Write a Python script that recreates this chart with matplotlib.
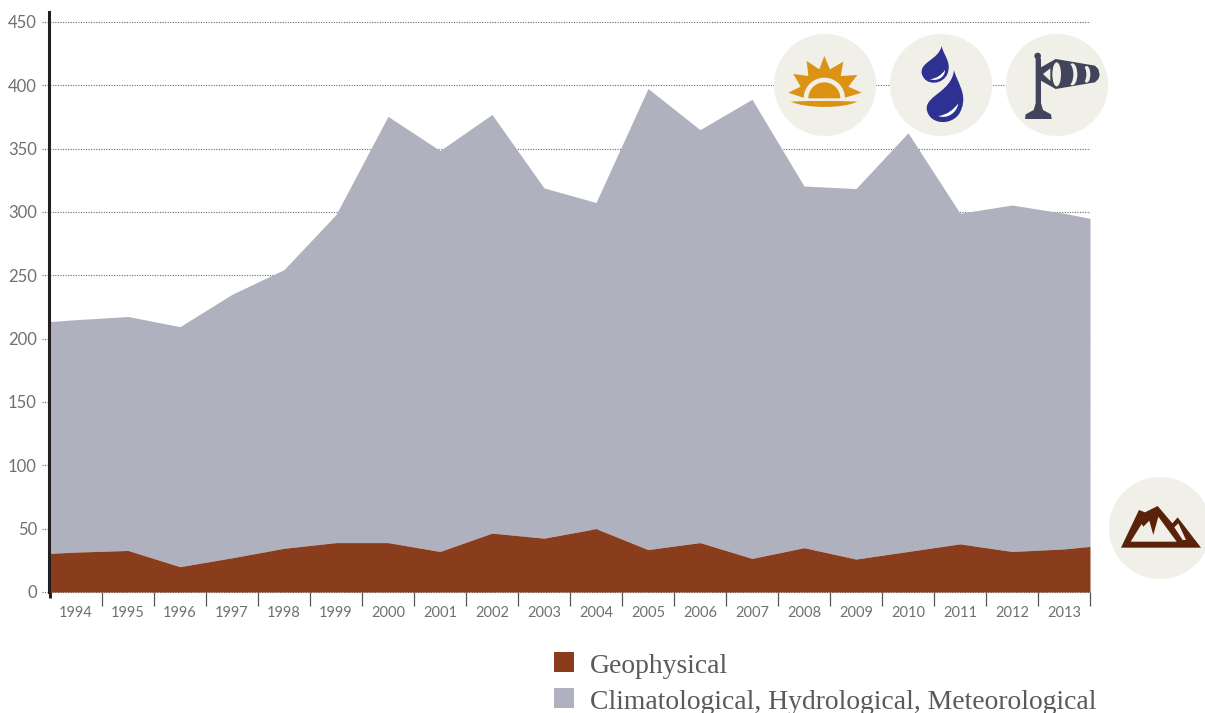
import matplotlib
matplotlib.use("Agg")
import matplotlib.pyplot as plt
from matplotlib.patches import Circle, Polygon, Rectangle, Ellipse, PathPatch, Wedge
from matplotlib.path import Path

# x positions: band edges at both ends, year centres between
years = [1994, 1995, 1996, 1997, 1998, 1999, 2000, 2001, 2002, 2003,
         2004, 2005, 2006, 2007, 2008, 2009, 2010, 2011, 2012, 2013]
x_pos = [1993.5] + years + [2013.5]
total = [213.5, 215, 217.5, 209.5, 235, 254.5, 298, 375.5, 348.5, 377, 319,
         307.5, 397.5, 365, 389, 320.5, 318.5, 362.5, 299, 305.5, 299, 295]
geo = [30.5, 31.5, 32.8, 20, 27, 34.5, 39, 39, 32, 46.5, 42.5,
       50, 33.5, 39, 26.5, 35, 26, 32, 38, 32, 34, 36]
y_ticks = [0, 50, 100, 150, 200, 250, 300, 350, 400, 450]
legend_labels = ["Geophysical", "Climatological, Hydrological, Meteorological"]

BROWN = "#8a3d1c"
GREY = "#b0b1be"
CIRCLE = "#f0efe8"
W, H = 1205, 713
X0, X1, Y0, YTOP = 50, 1090, 592, 12
PX_PER_UNIT = 570 / 450

fig = plt.figure(figsize=(W / 100, H / 100), dpi=100)
plt.rcParams["font.family"] = ["Lato", "DejaVu Sans"]
ax = fig.add_axes([X0 / W, 1 - Y0 / H, (X1 - X0) / W, (Y0 - YTOP) / H])
ax.set_xlim(1993.5, 2013.5)
ax.set_ylim(0, (Y0 - YTOP) / PX_PER_UNIT)

for v in y_ticks:
    ax.plot([-8 / (X1 - X0), 1], [v, v], transform=ax.get_yaxis_transform(),
            color="#666666", lw=0.8, ls=(0, (1, 1.3)), clip_on=False, zorder=1)
ax.fill_between(x_pos, geo, total, color=GREY, lw=0, zorder=2)
ax.fill_between(x_pos, 0, geo, color=BROWN, lw=0, zorder=3)

for s in ["top", "right", "bottom"]:
    ax.spines[s].set_visible(False)
ax.spines["left"].set_linewidth(2.2)
ax.spines["left"].set_color("#231f20")
ax.spines["left"].set_zorder(5)
ax.spines["left"].set_position(("outward", 0.4))
ax.plot([-0.4 / (X1 - X0)] * 2, [0, -6 / PX_PER_UNIT], transform=ax.get_yaxis_transform(),
        color="#231f20", lw=2.2, clip_on=False, zorder=5, solid_capstyle="butt")

ax.set_yticks(y_ticks)
ax.set_yticklabels([str(v) for v in y_ticks], fontsize=12, color="#707070")
ax.tick_params(axis="y", length=0, pad=9)
ax.set_xticks(years)
ax.set_xticklabels([str(y) for y in years], fontsize=10.5, color="#707070")
ax.tick_params(axis="x", which="major", length=0, pad=10)
ax.set_xticks([y + 0.5 for y in years], minor=True)
ax.tick_params(axis="x", which="minor", length=10, width=0.9, color="#555555")

# overlay in pixel coordinates for icons and legend
ov = fig.add_axes([0, 0, 1, 1])
ov.set_xlim(0, W)
ov.set_ylim(H, 0)
ov.axis("off")
ov.patch.set_alpha(0)

for cx, cy in [(825, 85), (941, 85), (1057, 85), (1160, 528)]:
    ov.add_patch(Circle((cx, cy), 51, color=CIRCLE, lw=0))


# crop coordinates of each icon, 3x scale
def z_sun(x, y):
    return 780 + x / 3, 50 + y / 3


def z_drop(x, y):
    return 760 + x / 3, 20 + y / 3


def z_wind(x, y):
    return 1015 + x / 3, 45 + y / 3


def z_rock(x, y):
    return 1115 + x / 3, 500 + y / 3


def poly(pts, fn, color):
    ov.add_patch(Polygon([fn(*p) for p in pts], closed=True, color=color, lw=0))


def curve(verts, codes, fn, color):
    ov.add_patch(PathPatch(Path([fn(*v) for v in verts], codes), color=color, lw=0))


C4, L, M = Path.CURVE4, Path.LINETO, Path.MOVETO

# sun
SUN = "#dc9212"
poly([(25, 128), (62, 110), (40, 72), (85, 78), (80, 33), (118, 58), (133, 18), (150, 58),
      (190, 35), (182, 78), (232, 75), (205, 110), (245, 128), (195, 143), (70, 143)],
     z_sun, SUN)
ov.add_patch(Wedge(z_sun(133, 145), 62 / 3, 180, 360, color=CIRCLE, lw=0))
ov.add_patch(Wedge(z_sun(133, 145), 48 / 3, 180, 360, color=SUN, lw=0))
curve([(32, 155), (100, 152), (170, 152), (232, 155), (190, 176), (80, 176), (32, 155)],
      [M, C4, C4, C4, C4, C4, C4], z_sun, SUN)

# drops
BLUE = "#2e3192"
curve([(545, 78), (550, 105), (575, 125), (563, 160), (550, 195), (495, 200), (485, 160),
       (480, 125), (535, 120), (545, 78)],
      [M, C4, C4, C4, C4, C4, C4, C4, C4, C4], z_drop, BLUE)
curve([(582, 150), (590, 185), (622, 220), (605, 265), (590, 320), (505, 320), (500, 265),
       (500, 225), (575, 215), (582, 150)],
      [M, C4, C4, C4, C4, C4, C4, C4, C4, C4], z_drop, BLUE)
curve([(510, 178), (530, 175), (545, 165), (555, 150), (555, 170), (535, 185), (510, 178)],
      [M, C4, C4, C4, C4, C4, C4], z_drop, "white")
curve([(535, 288), (560, 285), (580, 270), (595, 250), (590, 280), (560, 298), (535, 288)],
      [M, C4, C4, C4, C4, C4, C4], z_drop, "white")

# windsock
SOCK = "#41445a"
poly([(62, 40), (78, 40), (78, 175), (84, 195), (108, 208), (110, 222), (30, 222), (32, 208),
      (56, 195), (62, 175)], z_wind, SOCK)
ov.add_patch(Circle(z_wind(68, 33), 10 / 3, color=SOCK, lw=0))
poly([(76, 68), (122, 42), (240, 62), (250, 72), (254, 90), (250, 102), (240, 112),
      (122, 132), (76, 106)], z_wind, SOCK)
poly([(84, 87), (106, 70), (106, 108)], z_wind, CIRCLE)
ov.add_patch(Ellipse(z_wind(125, 88), 26 / 3, 72 / 3, color=CIRCLE, lw=0))
for xc, w, h in [(172, 30, 66), (215, 22, 50)]:
    ov.add_patch(Ellipse(z_wind(xc, 88), w / 3, h / 3, color=CIRCLE, lw=0))
    ov.add_patch(Ellipse(z_wind(xc - 12, 88), w / 3, h / 3, color=SOCK, lw=0))

# mountain
ROCK = "#5a2208"
poly([(18, 143), (72, 30), (90, 37), (128, 18), (172, 70), (188, 52), (258, 143)],
     z_rock, ROCK)
poly([(47, 125), (75, 80), (80, 72), (85, 80), (103, 62), (115, 105), (130, 50), (185, 125)],
     z_rock, CIRCLE)
poly([(178, 82), (190, 70), (213, 120), (203, 120)], z_rock, CIRCLE)

# legend
for (y, color, label) in zip([652, 688], [BROWN, GREY], legend_labels):
    ov.text(590, y + 21, label, family=["Liberation Serif", "DejaVu Serif"], fontsize=19.9,
            color="#5a5a5a", va="baseline", ha="left")
    ov.add_patch(Rectangle((554, y), 20, 20, color=color, lw=0))

fig.savefig("out.png", dpi=100)
